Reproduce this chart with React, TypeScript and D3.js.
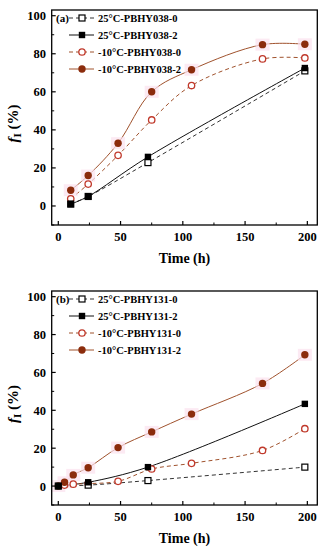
import React from "react";
import * as d3 from "d3";

// panel (a) data: [time h, f1 %]
const aSq0: [number, number][] = [[10, 1], [24, 5], [72, 22.8], [198, 71]];
const aSq2: [number, number][] = [[10, 1], [24, 5], [72, 25.8], [198, 72.5]];
const aCi0: [number, number][] = [[10, 3.8], [24, 11.5], [48, 26.6], [75, 45.2], [107, 63.3], [164, 77.3], [198, 77.8]];
const aCi2: [number, number][] = [[10, 8.3], [24, 16], [48, 33], [75, 60], [107, 71.6], [164, 84.8], [198, 85]];
const aNames = ["25°C-PBHY038-0", "25°C-PBHY038-2", "-10°C-PBHY038-0", "-10°C-PBHY038-2"];

// panel (b) data
const bSq0: [number, number][] = [[0, 0], [24, 0.5], [72, 2.9], [198, 10]];
const bSq2: [number, number][] = [[0, 0], [24, 2], [72, 10], [198, 43.4]];
const bCi0: [number, number][] = [[5, 0.5], [12, 1], [24, 1.3], [48, 2.5], [75, 9], [107, 12], [164, 18.8], [198, 30.3]];
const bCi2: [number, number][] = [[0, 0], [5, 2], [12, 5.9], [24, 9.7], [48, 20.3], [75, 28.6], [107, 38], [164, 54.2], [198, 69.3]];
const bNames = ["25°C-PBHY131-0", "25°C-PBHY131-2", "-10°C-PBHY131-0", "-10°C-PBHY131-2"];

const xTicks = [0, 50, 100, 150, 200];
const yTicks = [0, 20, 40, 60, 80, 100];

const FONT = "'Liberation Serif', 'Times New Roman', serif";
const BROWN = "#a0522d";
const DARK = "#8b2c0c";
const RED = "#c0392b";

type Series = { data: [number, number][]; kind: "sq0" | "sq2" | "ci0" | "ci2" };

function Marker({ kind, x, y }: { kind: Series["kind"]; x: number; y: number }) {
  if (kind === "sq0") return <rect x={x - 3} y={y - 3} width={6} height={6} fill="#fff" stroke="#000" strokeWidth={1.2} />;
  if (kind === "sq2") return <rect x={x - 3.2} y={y - 3.2} width={6.4} height={6.4} fill="#000" />;
  if (kind === "ci0") return <circle cx={x} cy={y} r={3.2} fill="#fff" stroke={RED} strokeWidth={1.3} />;
  return <circle cx={x} cy={y} r={3.7} fill={DARK} />;
}

const style = (kind: Series["kind"]) => {
  if (kind === "sq0") return { stroke: "#333", dash: "4,3" };
  if (kind === "sq2") return { stroke: "#111", dash: undefined };
  if (kind === "ci0") return { stroke: BROWN, dash: "4,3" };
  return { stroke: BROWN, dash: undefined };
};

function Panel({ top, bottom, label, names, series }: { top: number; bottom: number; label: string; names: string[]; series: Series[] }) {
  const left = 51.7, right = 317.3;
  const x = d3.scaleLinear().domain([-5.3, 208]).range([left, right]);
  const y = d3.scaleLinear().domain([-10, 103]).range([bottom, top]);
  const line = d3.line<[number, number]>().x((d) => x(d[0])).y((d) => y(d[1])).curve(d3.curveCatmullRom.alpha(0.5));
  const xMinor = d3.range(0, 201, 25).filter((v) => v % 50 !== 0);
  const yMinor = d3.range(-10, 101, 10).filter((v) => v % 20 !== 0);
  const order: Series["kind"][] = ["ci0", "ci2", "sq0", "sq2"];
  const legKinds: Series["kind"][] = ["sq0", "sq2", "ci0", "ci2"];
  return (
    <g fontFamily={FONT} fontWeight="bold">
      {/* lines */}
      {series.map((s, i) => {
        const st = style(s.kind);
        return <path key={i} d={line(s.data) || ""} fill="none" stroke={st.stroke} strokeWidth={1} strokeDasharray={st.dash} />;
      })}
      {/* faint halos */}
      {series.filter((s) => s.kind === "ci2").map((s) =>
        s.data.map((d, j) => <rect key={"h" + j} x={x(d[0]) - 7} y={y(d[1]) - 6} width={14} height={12} fill="#fbe1ee" opacity={0.7} />)
      )}
      {order.map((k) => {
        const s = series.find((q) => q.kind === k)!;
        return s.data.map((d, j) => <Marker key={k + j} kind={k} x={x(d[0])} y={y(d[1])} />);
      })}
      {/* frame */}
      <rect x={left} y={top} width={right - left} height={bottom - top} fill="none" stroke="#000" strokeWidth={1.3} />
      {xTicks.map((t) => (
        <g key={"x" + t}>
          <line x1={x(t)} x2={x(t)} y1={bottom} y2={bottom - 4} stroke="#000" strokeWidth={1.2} />
          <text x={x(t)} y={bottom + 16} textAnchor="middle" fontSize={12.5}>{t}</text>
        </g>
      ))}
      {xMinor.map((t) => <line key={"xm" + t} x1={x(t)} x2={x(t)} y1={bottom} y2={bottom - 2.5} stroke="#000" strokeWidth={1} />)}
      {yTicks.map((t) => (
        <g key={"y" + t}>
          <line x1={left} x2={left + 4} y1={y(t)} y2={y(t)} stroke="#000" strokeWidth={1.2} />
          <text x={46} y={y(t) + 4.5} textAnchor="end" fontSize={12.5}>{t}</text>
        </g>
      ))}
      {yMinor.map((t) => <line key={"ym" + t} x1={left} x2={left + 2.5} y1={y(t)} y2={y(t)} stroke="#000" strokeWidth={1} />)}
      <text x={(left + right) / 2} y={bottom + 38} textAnchor="middle" fontSize={14}>Time (h)</text>
      <text transform={`translate(18, ${(top + bottom) / 2 + 6}) rotate(-90)`} textAnchor="middle" fontSize={15}>
        <tspan fontStyle="italic">f</tspan>
        <tspan fontSize={11} dy={3}>I</tspan>
        <tspan dy={-3}> (%)</tspan>
      </text>
      {/* legend */}
      <text x={56} y={top + 11.5} fontSize={11}>{label}</text>
      {legKinds.map((k, i) => {
        const ly = top + 8 + i * 17;
        const st = style(k);
        return (
          <g key={"l" + k}>
            <line x1={69} x2={94} y1={ly} y2={ly} stroke={st.stroke} strokeWidth={1} strokeDasharray={st.dash} />
            <Marker kind={k} x={82} y={ly} />
            <text x={98} y={ly + 3.5} fontSize={10.5}>{names[i]}</text>
          </g>
        );
      })}
    </g>
  );
}

export default function App() {
  const aSeries: Series[] = [
    { data: aSq0, kind: "sq0" },
    { data: aSq2, kind: "sq2" },
    { data: aCi0, kind: "ci0" },
    { data: aCi2, kind: "ci2" },
  ];
  const bSeries: Series[] = [
    { data: bSq0, kind: "sq0" },
    { data: bSq2, kind: "sq2" },
    { data: bCi0, kind: "ci0" },
    { data: bCi2, kind: "ci2" },
  ];
  return (
    <svg width={327} height={550} style={{ position: "absolute", left: 0, top: 0, background: "#fff" }}>
      <rect width={327} height={550} fill="#fff" />
      <Panel top={10} bottom={225} label="(a)" names={aNames} series={aSeries} />
      <Panel top={291} bottom={505} label="(b)" names={bNames} series={bSeries} />
    </svg>
  );
}
